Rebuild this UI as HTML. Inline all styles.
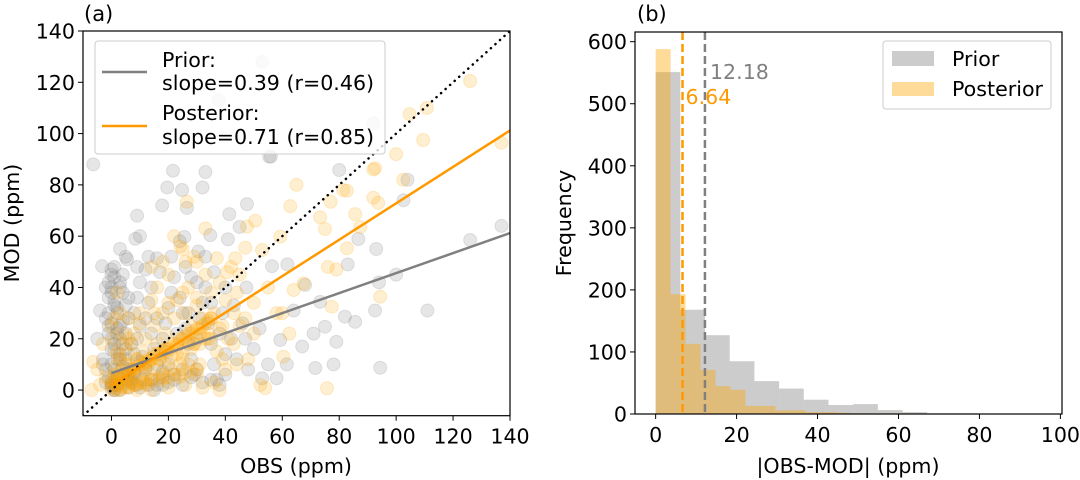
<!DOCTYPE html>
<html><head><meta charset="utf-8"><style>
body{margin:0;background:#fff;}
svg{display:block;font-family:"DejaVu Sans","Liberation Sans",sans-serif;}
</style></head><body>
<svg id="fig" width="1080" height="480" viewBox="0 0 1080 480">
<g id="pa"></g>
<g id="pb"></g>
</svg>
<script>
// ---- Panel (a) data ----
const priorObs = [-6.4,21.6,33,19.6,24.8,32,17.8,26.5,9,41.4,47.6,45,55.4,80,102.6,8.4,25.6,34.7,40.9,86.7,93,83,100,-3.3,5.5,16,30.5,47.4,56.4,61.8,68,73.3,92.6,82,85.6,75,79,67,71,59.3,61.6,71.6,78,94.4,58,52.9,64,137,126,111,94,56,104,92,37.6,53,
0,0,1,2,-1,0,1,0,2,3,-2,-3,-1,-2,1,3,4,5,6,5,4,3,6,7,8,9,10,8,9,10,12,14,13,12,14,15,16,17,11,18,19,20,21,22,24,25,26,27,28,29,30,31,32,33,34,35,36,37,38,39,40,42,44,46,48,50,20,22,15,18,25,12,6,3,2,4,-4,-5,0,1,-1,5,7,11,13,16,19,23,27,30,35,40,43,47,52,55,9,13,17,21,26,28,33,36,5,3,24,10,2,4,1,6,8,10,
-1,0,1,-2,0,2,-1,1,0,3,2,-3,1,0,-1,2,4,3,5,6,7,2,1,0,-2,4,8,9,10,12,6,3,1,0,2,5,14,16,18,20,22,25,28,30,32,35,38,40];
const priorMod = [88,85.5,85,79,78,79,72,71,68,68.6,72.5,63.6,91,85.8,74,59,59.7,60.4,58.8,58.9,55,49,45,48.3,51,51.4,54,40,48.3,49,41,34.4,31,28.6,26.6,24.7,18.8,17,22,19.5,10,8.6,10,8.7,4.6,4.6,31,64,58.5,31,42,91,82,104,113,128,
45,40,35,30,25,20,15,10,5,0,8,12,30,40,48,42,38,33,28,22,18,12,8,3,14,20,25,30,36,42,47,40,34,28,22,16,10,5,4,20,26,32,38,44,36,30,24,18,12,6,20,28,34,40,26,18,10,4,22,30,14,20,12,26,8,16,10,4,0,2,8,9,1,25,22,45,31,20,2,0,5,12,18,13,2,28,15,22,30,42,34,40,33,20,24,10,48,52,46,52,48,44,52,46,52,55,58,60,2,6,8,4,7,1,
42,38,33,28,26,24,22,18,16,14,12,10,44,47,36,32,27,20,16,6,4,2,0,1,3,9,6,2,11,8,36,40,2,3,5,3,4,2,7,3,6,2,5,8,3,4,2,6];
const postObs = [126,137,110.8,104.7,109.5,100,92.6,92,102.5,65,82.7,92,62.8,81.4,77,85.6,73.3,87.4,75,59.3,93.7,26.5,33,50.5,47.6,24.2,47,52.9,82.7,76,79,94.4,77.4,67.5,64,60,62.5,60.4,75.7,52.3,54,43.5,37,40.6,29,-6.4,-7,
0,1,2,0,1,2,3,4,5,6,7,8,5,3,2,1,0,-2,-4,6,7,8,9,10,11,12,13,14,15,16,17,18,19,20,21,22,23,24,25,26,27,28,29,30,31,32,33,34,35,36,37,38,39,40,41,42,43,44,45,12,18,24,30,36,40,44,48,10,14,6,4,20,26,16,8,9,14,20,26,32,38,3,5,11,15,19,23,27,31,35,39,43,47,50,55,58,50,45,3,1,-3,-5,2,22,14,18,25,30,
0,1,2,3,4,5,6,7,8,9,10,11,12,13,14,15,16,17,18,19,20,21,22,23,24,25,26,27,28,29,30,31,32,33,34,35,2,4,6,8,10,12,14,16,18,20,22,24,26,28,30,1,3,5,7,9,11,13,15,17,19,21,23,25,27,29,31,33,
5,10,15,20,25,30,35,8,12,18,24,28,34,38,2,6];
const postMod = [120.5,96.4,110,107.6,97.5,92,86.5,86,82,80,77.7,75,71.7,78,73.4,68.6,67.4,63.6,62.8,59.8,73,73.4,63,66,63.7,56,55.5,54.6,55.3,48,47,36.4,32.5,41.6,39,30,22,13,0.7,2,0.8,51.4,51.4,46,52,11,0,
0,1,2,4,6,3,5,2,4,6,3,8,10,12,15,20,25,5,2,14,18,22,12,8,15,20,10,5,25,18,12,30,22,15,8,28,35,20,12,30,40,25,18,33,10,28,45,22,38,30,15,42,25,35,20,48,30,38,25,2,4,5,6,3,8,10,12,30,35,28,22,45,50,40,2,0,0,1,2,1,0,0,1,3,8,10,14,10,18,20,12,18,28,34,40,30,22,45,30,28,18,8,38,60,48,50,55,50,
2,3,4,5,5,6,7,8,8,9,10,10,11,12,12,13,14,14,15,16,16,17,18,18,19,20,21,22,22,23,24,24,25,26,27,28,0,1,1,2,3,3,4,4,5,5,6,6,7,7,8,9,7,10,6,12,9,11,14,12,16,13,17,15,19,18,22,20,
18,26,30,34,38,36,28,2,4,6,10,16,20,24,14,20];
const priorFit = [0.39, 6.6];
const postFit = [0.71, 1.8];
// ---- Panel (b) data ----
const priorCounts = [551,168,127,85,53,41,23,14.5,16,6.4,3,1,1];
const postCounts = [588,193,113,71,45,39,13,13,6,6,3,3,2,1,1,1,1];
const priorBinW = 6.1, postBinW = 3.7;
const priorMean = 12.18, postMean = 6.64;
const xTicksA = [0,20,40,60,80,100,120,140];
const yTicksA = [0,20,40,60,80,100,120,140];
const xTicksB = [0,20,40,60,80,100];
const yTicksB = [0,100,200,300,400,500,600];

const FS = 20.6;
const NS="http://www.w3.org/2000/svg";
function el(parent,tag,attrs,text){const e=document.createElementNS(NS,tag);for(const k in attrs)e.setAttribute(k,attrs[k]);if(text!==undefined)e.textContent=text;parent.appendChild(e);return e;}

// Panel A
const A={L:83,R:510,T:31,B:415.7,x0:-10,x1:140,y0:-10,y1:140};
const ax=v=>A.L+(v-A.x0)/(A.x1-A.x0)*(A.R-A.L);
const ay=v=>A.B-(v-A.y0)/(A.y1-A.y0)*(A.B-A.T);
const pa=document.getElementById('pa');
const clipA=el(pa,'clipPath',{id:'ca'});el(clipA,'rect',{x:A.L,y:A.T,width:A.R-A.L,height:A.B-A.T});
const ga=el(pa,'g',{'clip-path':'url(#ca)'});
for(let i=0;i<priorObs.length;i++){const c=el(ga,'circle',{cx:ax(priorObs[i]),cy:ay(priorMod[i]),r:6.5,fill:'#808080','fill-opacity':0.2,stroke:'#808080','stroke-opacity':0.2});

}
for(let i=0;i<postObs.length;i++){const c=el(ga,'circle',{cx:ax(postObs[i]),cy:ay(postMod[i]),r:6.5,fill:'#ffa500','fill-opacity':0.18,stroke:'#ffa500','stroke-opacity':0.2});

}
const one=el(ga,'line',{x1:ax(-10),y1:ay(-10),x2:ax(140),y2:ay(140),stroke:'#000','stroke-width':2.5,'stroke-dasharray':'0.1 6','stroke-linecap':'round'});

const l1=el(ga,'line',{x1:ax(0),y1:ay(priorFit[1]),x2:ax(140),y2:ay(priorFit[1]+priorFit[0]*140),stroke:'#808080','stroke-width':2.5});

const l2=el(ga,'line',{x1:ax(0),y1:ay(postFit[1]),x2:ax(140),y2:ay(postFit[1]+postFit[0]*140),stroke:'#ff9900','stroke-width':2.5});

el(pa,'rect',{x:A.L,y:A.T,width:A.R-A.L,height:A.B-A.T,fill:'none',stroke:'#000','stroke-width':1.2});
xTicksA.forEach(t=>{el(pa,'line',{x1:ax(t),x2:ax(t),y1:A.B,y2:A.B+5,stroke:'#000'});const tx=el(pa,'text',{x:ax(t),y:A.B+28,'text-anchor':'middle','font-size':FS},String(t));});
yTicksA.forEach(t=>{el(pa,'line',{x1:A.L-5,x2:A.L,y1:ay(t),y2:ay(t),stroke:'#000'});const tx=el(pa,'text',{x:A.L-8,y:ay(t)+7.5,'text-anchor':'end','font-size':FS},String(t));});

// Panel B
const B={L:635,R:1062,T:32,B:414,x0:-5.1,x1:100.4,y0:0,y1:615.6};
const bx=v=>B.L+(v-B.x0)/(B.x1-B.x0)*(B.R-B.L);
const by=v=>B.B-(v-B.y0)/(B.y1-B.y0)*(B.B-B.T);
const pb=document.getElementById('pb');
priorCounts.forEach((c,i)=>{const r=el(pb,'rect',{x:bx(i*priorBinW),y:by(c),width:bx((i+1)*priorBinW)-bx(i*priorBinW),height:by(0)-by(c),fill:'#808080','fill-opacity':0.4});
});
postCounts.forEach((c,i)=>{const r=el(pb,'rect',{x:bx(i*postBinW),y:by(c),width:bx((i+1)*postBinW)-bx(i*postBinW),height:by(0)-by(c),fill:'#ffa500','fill-opacity':0.4});
});
const m1=el(pb,'line',{x1:bx(postMean),x2:bx(postMean),y1:B.T,y2:B.B,stroke:'#ff9900','stroke-width':2.5,'stroke-dasharray':'8 4'});

const m2=el(pb,'line',{x1:bx(priorMean),x2:bx(priorMean),y1:B.T,y2:B.B,stroke:'#808080','stroke-width':2.5,'stroke-dasharray':'8 4'});

const t1=el(pb,'text',{x:bx(priorMean)+5,y:79,'font-size':FS,fill:'#808080'},priorMean.toFixed(2));

const t2=el(pb,'text',{x:bx(postMean)+3,y:104,'font-size':FS,fill:'#ff9900'},postMean.toFixed(2));

el(pb,'rect',{x:B.L,y:B.T,width:B.R-B.L,height:B.B-B.T,fill:'none',stroke:'#000','stroke-width':1.2});
xTicksB.forEach(t=>{el(pb,'line',{x1:bx(t),x2:bx(t),y1:B.B,y2:B.B+5,stroke:'#000'});const tx=el(pb,'text',{x:bx(t),y:B.B+28,'text-anchor':'middle','font-size':FS},String(t));});
yTicksB.forEach(t=>{el(pb,'line',{x1:B.L-5,x2:B.L,y1:by(t),y2:by(t),stroke:'#000'});const tx=el(pb,'text',{x:B.L-8,y:by(t)+7.5,'text-anchor':'end','font-size':FS},String(t));});
</script>
<svg width="1080" height="480" style="position:absolute;left:0;top:0">
<g font-family="DejaVu Sans, Liberation Sans, sans-serif" font-size="20.6">
<text x="84" y="21" font-size="21">(a)</text>
<text x="637" y="21" font-size="21">(b)</text>
<text x="296" y="473" text-anchor="middle">OBS (ppm)</text>
<text x="848" y="473" text-anchor="middle">|OBS-MOD| (ppm)</text>
<text transform="translate(19,223) rotate(-90)" text-anchor="middle">MOD (ppm)</text>
<text transform="translate(571,223) rotate(-90)" text-anchor="middle">Frequency</text>
<g>
<rect x="95" y="41" width="290" height="113" rx="3" fill="#fff" fill-opacity="0.8" stroke="#ccc"/>
<line x1="102" y1="72" x2="147" y2="72" stroke="#808080" stroke-width="2.5"/>
<text x="162" y="67">Prior:</text>
<text x="162" y="90">slope=0.39 (r=0.46)</text>
<line x1="102" y1="126" x2="147" y2="126" stroke="#ff9900" stroke-width="2.5"/>
<text x="162" y="120">Posterior:</text>
<text x="162" y="144">slope=0.71 (r=0.85)</text>
</g>
<g>
<rect x="883" y="41" width="168" height="68" rx="3" fill="#fff" fill-opacity="0.8" stroke="#ccc"/>
<rect x="892" y="51" width="42" height="15" fill="#808080" fill-opacity="0.4"/>
<text x="952" y="66">Prior</text>
<rect x="892" y="82" width="42" height="14" fill="#ffa500" fill-opacity="0.4"/>
<text x="952" y="96">Posterior</text>
</g>
</g>
</svg>
</body></html>
